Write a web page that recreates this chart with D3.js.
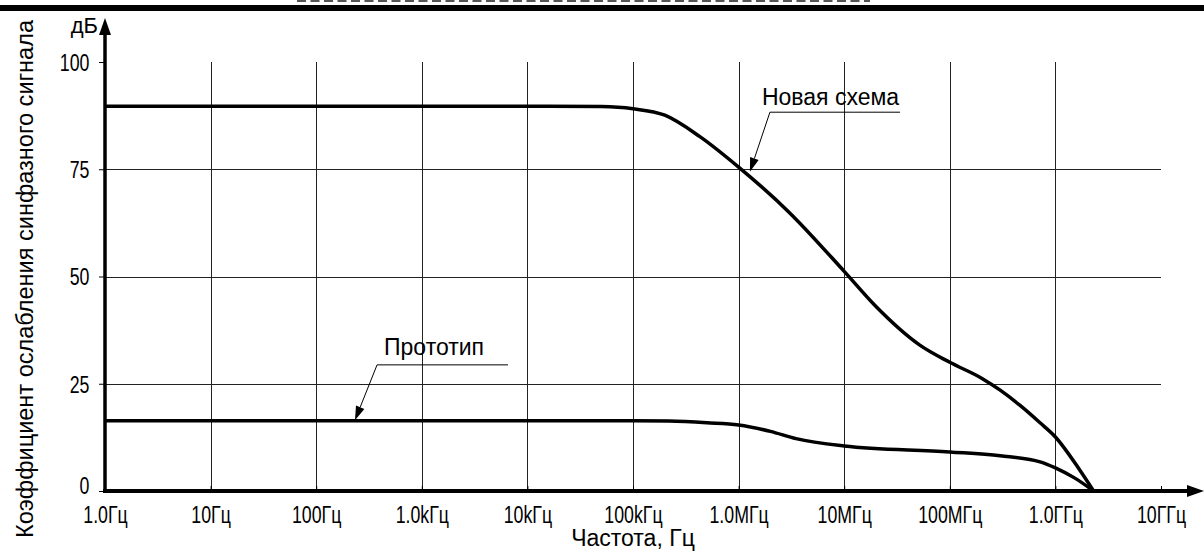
<!DOCTYPE html>
<html>
<head>
<meta charset="utf-8">
<script src="https://cdn.jsdelivr.net/npm/d3@7"></script>
<style>
html,body{margin:0;padding:0;background:#fff;}
svg{display:block;font-family:"Liberation Sans",Arial,sans-serif;}
</style>
</head>
<body>
<svg id="chart" width="1204" height="552"></svg>
<script>
// ---- data ----
const freqTicks = [1, 10, 100, 1e3, 1e4, 1e5, 1e6, 1e7, 1e8, 1e9, 1e10];
const freqTickLabels = ["1.0Гц","10Гц","100Гц","1.0kГц","10kГц","100kГц","1.0МГц","10МГц","100МГц","1.0ГГц","10ГГц"];
const dbTicks = [0, 25, 50, 75, 100];
const dbGrid = [25, 50, 75];

const newFreq = [1, 10, 100, 1e3, 1e4, 5e4, 1e5, 2e5, 4.3e5, 1e6, 3e6, 1e7, 2e7, 5.2e7, 1e8, 2e8, 3e8, 4.6e8, 7.15e8, 1e9, 1.7e9, 2.3e9];
const newDb   = [89.7, 89.7, 89.7, 89.7, 89.7, 89.6, 89.1, 87.6, 82.6, 75.5, 65.0, 51.2, 43.0, 34.0, 30.0, 26.3, 23.5, 20.0, 15.9, 12.6, 4.9, 0];

const protoFreq = [1, 10, 100, 1e3, 1e4, 1e5, 2.2e5, 5e5, 1e6, 2e6, 3.5e6, 1e7, 1e8, 3e8, 7.15e8, 1e9, 1.53e9, 2.3e9];
const protoDb   = [16.4, 16.4, 16.4, 16.4, 16.4, 16.4, 16.3, 15.9, 15.4, 13.9, 12.2, 10.5, 9.1, 8.2, 6.8, 5.4, 3.0, 0];

const seriesNames = ["Новая схема", "Прототип"];
// annotation anchors in data units: [tip f, tip dB, underline start f, underline end f, underline dB]
const noteNew   = [1.28e6, 74.4, 1.98e6, 3.38e7, 88.3];
const noteProto = [233, 16.5, 377, 6550, 29.4];

const xTitle = "Частота, Гц";
const yTitle = "Коэффициент ослабления синфазного сигнала";
const yUnit = "дБ";

// ---- scales ----
const svg = d3.select("#chart");
const x = d3.scaleLog().domain([1, 1e10]).range([105, 1161]);
const y = d3.scaleLinear().domain([0, 100]).range([491, 62]);

// top decoration
svg.append("line").attr("x1",297).attr("x2",870).attr("y1",1).attr("y2",1)
  .attr("stroke","#555").attr("stroke-width",2).attr("stroke-dasharray","9,4.5");
svg.append("rect").attr("x",0).attr("y",5).attr("width",1204).attr("height",6).attr("fill","#000");

// grid
const grid = svg.append("g");
grid.selectAll("line.v").data(freqTicks.slice(1, -1)).join("line")
  .attr("x1", d => Math.round(x(d)) + 0.5).attr("x2", d => Math.round(x(d)) + 0.5)
  .attr("y1", y(100)).attr("y2", y(0))
  .attr("stroke", "#222").attr("stroke-width", 1);
grid.selectAll("line.h").data(dbGrid).join("line")
  .attr("x1", x(1)).attr("x2", x(1e10))
  .attr("y1", d => Math.round(y(d)) + 0.5).attr("y2", d => Math.round(y(d)) + 0.5)
  .attr("stroke", "#222").attr("stroke-width", 1);

// curves
const line = d3.line().x(d => x(d[0])).y(d => y(d[1])).curve(d3.curveMonotoneX);
const curves = [d3.zip(newFreq, newDb), d3.zip(protoFreq, protoDb)];
svg.selectAll("path.curve").data(curves).join("path")
  .attr("class","curve").attr("d", line).attr("fill","none")
  .attr("stroke","#000").attr("stroke-width",3.5).attr("stroke-linejoin","round");

// axes
const xAxis = svg.append("g").attr("transform", `translate(0,${y(0)})`)
  .call(d3.axisBottom(x).tickValues(freqTicks).tickFormat((d,i) => freqTickLabels[i]).tickSize(-5).tickSizeOuter(0));
xAxis.select(".domain").remove();
xAxis.selectAll(".tick line").attr("stroke","#000");
xAxis.selectAll(".tick text").attr("font-size",24).attr("font-family","Liberation Sans, Arial, sans-serif")
  .attr("fill","#000").attr("y",32).attr("dy",0).attr("transform","scale(0.74,1)");

const yAxis = svg.append("g").attr("transform", `translate(${x(1)},0)`)
  .call(d3.axisLeft(y).tickValues(dbTicks).tickSize(6).tickSizeOuter(0));
yAxis.select(".domain").remove();
yAxis.selectAll(".tick line").attr("stroke","#000");
yAxis.selectAll(".tick text").attr("font-size",24).attr("font-family","Liberation Sans, Arial, sans-serif")
  .attr("fill","#000").attr("x",-21).attr("dy", d => d === 0 ? "0.1em" : "0.35em").attr("transform","scale(0.74,1)");

// axis lines with arrows
svg.append("line").attr("x1",x(1)).attr("x2",x(1)).attr("y1",y(0)+2).attr("y2",30)
  .attr("stroke","#000").attr("stroke-width",3.5);
svg.append("path").attr("d",`M${x(1)},18 L${x(1)-6},35 L${x(1)+6},35 Z`).attr("fill","#000");
svg.append("line").attr("x1",x(1)-2).attr("x2",1192).attr("y1",y(0)).attr("y2",y(0))
  .attr("stroke","#000").attr("stroke-width",4);
svg.append("path").attr("d",`M1204,${y(0)} L1187,${y(0)-6} L1187,${y(0)+6} Z`).attr("fill","#000");

// titles
svg.append("text").attr("x",98).attr("y",33).attr("text-anchor","end")
  .attr("font-size",22).attr("fill","#000").text(yUnit);
svg.append("text").attr("x",633).attr("y",546).attr("text-anchor","middle")
  .attr("font-size",23).attr("fill","#000").text(xTitle);
svg.append("text").attr("transform","translate(33,279) rotate(-90)").attr("text-anchor","middle")
  .attr("font-size",23).attr("fill","#000").attr("textLength",518).attr("lengthAdjust","spacingAndGlyphs").text(yTitle);

// annotations
function annotate(note, name, textDx, textDy) {
  const [tf, tdb, uf0, uf1, udb] = note;
  const tx = x(tf), ty = y(tdb), ux0 = x(uf0), ux1 = x(uf1), uy = y(udb);
  svg.append("line").attr("x1",ux0).attr("x2",ux1).attr("y1",uy).attr("y2",uy)
    .attr("stroke","#000").attr("stroke-width",1);
  const ang = Math.atan2(ty - uy, tx - ux0);
  const L = 14, W = 4.5;
  const bx = tx - L*Math.cos(ang), by = ty - L*Math.sin(ang);
  svg.append("line").attr("x1",ux0).attr("y1",uy).attr("x2",bx).attr("y2",by)
    .attr("stroke","#000").attr("stroke-width",1);
  const px = -Math.sin(ang)*W, py = Math.cos(ang)*W;
  svg.append("path").attr("d",`M${tx},${ty} L${bx+px},${by+py} L${bx-px},${by-py} Z`).attr("fill","#000");
  svg.append("text").attr("x",ux0+textDx).attr("y",uy+textDy).attr("font-size",23).attr("fill","#000").text(name);
}
annotate(noteNew, seriesNames[0], -8, -7);
annotate(noteProto, seriesNames[1], 7, -10);
</script>
</body>
</html>
